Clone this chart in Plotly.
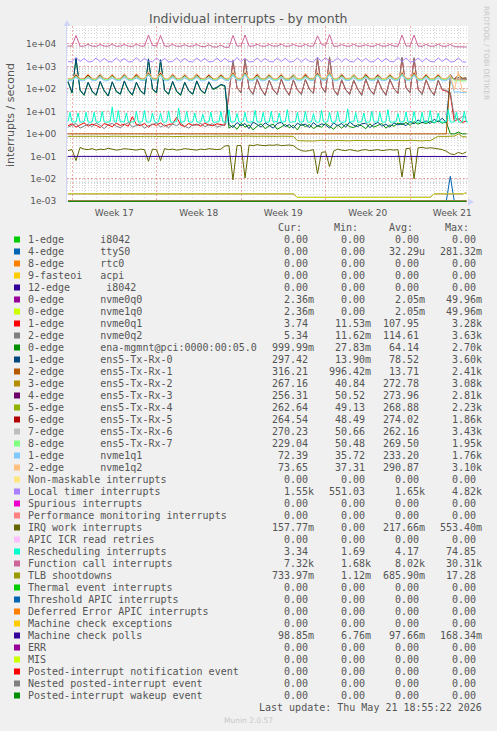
import plotly.graph_objects as go

# ---------------- time samples (days since Sunday 2026-04-19 00:00) ----------------
sample_days = [k / 3 for k in range(-1, 99)]          # 8-hour consolidated samples
res_days = [j / 6 - 1 / 3 for j in range(200)]        # 4-hour samples (rescheduling)
zero_days = [sample_days[0], sample_days[-1]]
zero_values = [0.0, 0.0]

week_centers = [3.5, 10.5, 17.5, 24.5, 31.5]
week_labels = ["Week 17", "Week 18", "Week 19", "Week 20", "Week 21"]
ytick_vals = [1e-3, 1e-2, 1e-1, 1e0, 1e1, 1e2, 1e3, 1e4]
ytick_text = ["1e-03", "1e-02", "1e-01", "1e+00", "1e+01", "1e+02", "1e+03", "1e+04"]

# ---------------- series values ----------------
ttys0 = [0, 0, 0, 0, 0, 0, 0, 0, 0, 0,
         0, 0, 0, 0, 0, 0, 0, 0, 0, 0,
         0, 0, 0, 0, 0, 0, 0, 0, 0, 0,
         0, 0, 0, 0, 0, 0, 0, 0, 0, 0,
         0, 0, 0, 0, 0, 0, 0, 0, 0, 0,
         0, 0, 0, 0, 0, 0, 0, 0, 0, 0,
         0, 0, 0, 0, 0, 0, 0, 0, 0, 0,
         0, 0, 0, 0, 0, 0, 0, 0, 0, 0,
         0, 0, 0, 0, 0, 0, 0, 0, 0, 0,
         0, 0, 0, 0, 0, 0.013, 0, 0, 0, 0]

nvme0q0 = [0.00215, 0.00215, 0.00214, 0.00215, 0.00216, 0.00215, 0.00215, 0.00214, 0.00215, 0.00215,
           0.00215, 0.00216, 0.00215, 0.00215, 0.00214, 0.00215, 0.00215, 0.00215, 0.00216, 0.00215,
           0.00215, 0.00214, 0.00215, 0.00215, 0.00215, 0.00216, 0.00215, 0.00215, 0.00214, 0.00215,
           0.00215, 0.00215, 0.00216, 0.00215, 0.00215, 0.00214, 0.00215, 0.00215, 0.00215, 0.00216,
           0.00215, 0.00215, 0.00214, 0.00215, 0.00215, 0.00215, 0.00216, 0.00215, 0.00215, 0.00214,
           0.00215, 0.00215, 0.00215, 0.00216, 0.00215, 0.00215, 0.00215, 0.00150, 0.00150, 0.00149,
           0.00150, 0.00150, 0.00151, 0.00150, 0.00150, 0.00149, 0.00150, 0.00150, 0.00150, 0.00151,
           0.00150, 0.00150, 0.00149, 0.00150, 0.00150, 0.00150, 0.00151, 0.00150, 0.00150, 0.00149,
           0.00150, 0.00150, 0.00150, 0.00151, 0.00150, 0.00150, 0.00149, 0.00150, 0.00150, 0.00150,
           0.00151, 0.00215, 0.00215, 0.00216, 0.00215, 0.00215, 0.00214, 0.00215, 0.00215, 0.00236]

nvme1q0 = [0.00215, 0.00215, 0.00214, 0.00215, 0.00216, 0.00215, 0.00215, 0.00214, 0.00215, 0.00215,
           0.00215, 0.00216, 0.00215, 0.00215, 0.00214, 0.00215, 0.00215, 0.00215, 0.00216, 0.00215,
           0.00215, 0.00214, 0.00215, 0.00215, 0.00215, 0.00216, 0.00215, 0.00215, 0.00214, 0.00215,
           0.00215, 0.00215, 0.00216, 0.00215, 0.00215, 0.00214, 0.00215, 0.00215, 0.00215, 0.00216,
           0.00215, 0.00215, 0.00214, 0.00215, 0.00215, 0.00215, 0.00216, 0.00215, 0.00215, 0.00214,
           0.00215, 0.00215, 0.00215, 0.00216, 0.00215, 0.00215, 0.00215, 0.00150, 0.00150, 0.00149,
           0.00150, 0.00150, 0.00151, 0.00150, 0.00150, 0.00149, 0.00150, 0.00150, 0.00150, 0.00151,
           0.00150, 0.00150, 0.00149, 0.00150, 0.00150, 0.00150, 0.00151, 0.00150, 0.00150, 0.00149,
           0.00150, 0.00150, 0.00150, 0.00151, 0.00150, 0.00150, 0.00149, 0.00150, 0.00150, 0.00150,
           0.00151, 0.00215, 0.00215, 0.00216, 0.00215, 0.00215, 0.00214, 0.00215, 0.00215, 0.00236]

nvme0q1 = [2.3, 2.8, 2.0, 2.6, 3.1, 2.2, 2.7, 2.4, 1.9, 2.9,
           2.5, 2.1, 3.0, 2.4, 2.7, 2.2, 5.8, 2.6, 2.3, 2.9,
           2.0, 2.7, 2.4, 3.1, 2.2, 2.6, 2.8, 5.5, 2.5, 2.1,
           2.9, 2.4, 2.7, 2.2, 3.0, 2.5, 2.3, 2.8, 2.6, 2.4,
           60, 1800, 110, 70, 2000, 100, 60, 260, 95, 55,
           240, 90, 60, 270, 95, 55, 250, 90, 60, 260,
           95, 65, 2200, 120, 70, 2500, 95, 55, 250, 90,
           60, 240, 95, 55, 270, 90, 60, 250, 95, 55,
           260, 100, 65, 2400, 110, 70, 2300, 95, 60, 250,
           90, 55, 240, 90, 80, 60, 3.5, 4.8, 3.2, 3.74]

nvme0q2 = [2.0, 2.5, 2.9, 1.8, 2.3, 2.7, 2.1, 3.0, 2.4, 1.7,
           2.6, 2.9, 2.2, 1.9, 2.5, 3.2, 2.0, 2.4, 2.8, 1.8,
           2.3, 2.6, 3.1, 2.0, 2.5, 1.9, 2.7, 2.3, 3.0, 2.2,
           1.8, 2.6, 2.4, 2.9, 2.1, 2.5, 2.8, 2.0, 2.3, 2.6,
           70, 1900, 120, 65, 2100, 105, 55, 280, 100, 50,
           250, 95, 55, 290, 100, 50, 260, 95, 55, 270,
           100, 60, 2400, 130, 65, 2700, 100, 50, 265, 95,
           55, 255, 100, 50, 285, 95, 55, 265, 100, 50,
           275, 105, 60, 2600, 115, 65, 2500, 100, 55, 265,
           95, 50, 255, 95, 85, 70, 5.5, 4.2, 6.0, 5.34]

ena_mgmnt = [200, 65, 2200, 85, 52, 190, 75, 52, 205, 80,
             48, 200, 75, 57, 215, 85, 52, 190, 80, 57,
             2000, 95, 66, 1850, 85, 57, 205, 75, 52, 190,
             80, 57, 215, 85, 62, 200, 95, 110, 150, 130,
             1.8, 2.4, 1.6, 2.9, 2.0, 2.5, 1.5, 2.2, 2.8, 1.7,
             2.3, 2.7, 1.6, 2.0, 2.6, 1.9, 2.4, 1.5, 2.8, 2.1,
             2.6, 1.7, 2.3, 2.0, 2.9, 2.2, 1.6, 2.5, 1.8, 2.7,
             2.1, 1.9, 2.6, 2.3, 1.7, 2.8, 2.0, 2.4, 2.9, 1.8,
             2.5, 2.2, 3.0, 2.6, 3.2, 2.4, 3.5, 2.7, 3.3, 2.9,
             3.6, 3.1, 3.8, 3.0, 3.4, 1.0, 1.0, 1.2, 1.0, 1.0]

txrx0 = [220, 70, 2400, 90, 55, 200, 80, 55, 220, 85,
         50, 210, 80, 60, 230, 90, 55, 200, 85, 60,
         2200, 100, 70, 2000, 90, 60, 220, 80, 55, 200,
         85, 60, 230, 90, 65, 210, 100, 120, 160, 140,
         2.6, 1.9, 3.2, 2.3, 2.9, 1.7, 3.4, 2.5, 2.0, 3.1,
         2.4, 1.8, 2.9, 3.3, 2.1, 2.6, 1.8, 3.0, 2.4, 2.7,
         1.9, 3.2, 2.2, 2.8, 2.5, 1.8, 3.1, 2.3, 2.9, 2.0,
         3.4, 2.4, 2.1, 2.8, 3.0, 1.9, 2.6, 3.3, 2.2, 2.7,
         2.0, 3.1, 2.5, 2.9, 2.3, 3.6, 2.8, 4.2, 3.1, 3.8,
         2.9, 4.5, 3.4, 5.0, 3.2, 300, 285, 320, 295, 297.42]

txrx1 = [1.0, 1.0, 0.998, 1.0, 1.0, 1.0, 0.999, 1.0, 1.0, 1.0,
         1.0, 1.0, 1.0, 0.998, 1.0, 1.0, 1.0, 1.0, 1.0, 0.999,
         1.0, 1.0, 0.998, 1.0, 1.0, 1.0, 1.0, 0.999, 1.0, 1.0,
         1.0, 1.0, 1.0, 1.0, 0.998, 1.0, 1.0, 1.0, 1.0, 1.0,
         1.0, 0.999, 1.0, 1.0, 1.0, 1.0, 0.998, 1.0, 1.0, 1.0,
         1.0, 1.0, 1.0, 0.999, 1.0, 1.0, 1.0, 1.0, 0.998, 1.0,
         1.0, 1.0, 1.0, 1.0, 1.0, 0.999, 1.0, 1.0, 1.0, 1.0,
         0.998, 1.0, 1.0, 1.0, 1.0, 1.0, 0.999, 1.0, 1.0, 1.0,
         1.0, 1.0, 0.998, 1.0, 1.0, 1.0, 1.0, 0.999, 1.0, 1.0,
         1.0, 1.0, 1.0, 1.0, 1.0, 320, 280, 420, 300, 316.21]

txrx2 = [280, 270, 380, 275, 268, 360, 272, 270, 390, 278,
         265, 370, 270, 272, 400, 276, 268, 365, 280, 270,
         450, 285, 275, 480, 272, 268, 370, 275, 270, 385,
         270, 266, 360, 278, 270, 395, 274, 268, 370, 282,
         270, 460, 285, 272, 470, 275, 268, 380, 270, 265,
         360, 276, 270, 390, 272, 268, 375, 278, 266, 365,
         280, 272, 440, 284, 275, 470, 274, 268, 380, 270,
         266, 370, 276, 270, 390, 272, 268, 365, 278, 270,
         380, 282, 272, 450, 285, 276, 460, 274, 268, 370,
         270, 265, 385, 276, 270, 360, 268, 267, 270, 267.16]

txrx3 = [276, 282, 430, 280, 274, 400, 278, 284, 420, 272,
         280, 390, 282, 276, 440, 278, 272, 410, 284, 280,
         520, 288, 278, 500, 276, 282, 420, 280, 274, 400,
         278, 270, 430, 282, 276, 410, 274, 280, 390, 286,
         278, 500, 288, 282, 520, 278, 274, 440, 282, 276,
         420, 276, 280, 400, 280, 272, 430, 274, 278, 410,
         286, 280, 490, 290, 284, 530, 278, 274, 420, 282,
         276, 400, 276, 280, 440, 280, 274, 410, 274, 278,
         420, 286, 280, 500, 288, 282, 510, 278, 276, 420,
         282, 274, 400, 276, 280, 430, 262, 258, 256, 256.31]

txrx4 = [268, 264, 360, 270, 266, 380, 264, 268, 350, 270,
         262, 370, 266, 270, 360, 268, 264, 390, 274, 268,
         460, 278, 270, 440, 266, 262, 370, 270, 268, 360,
         264, 266, 380, 268, 270, 350, 266, 262, 370, 276,
         270, 450, 278, 272, 460, 268, 264, 360, 266, 270,
         380, 270, 264, 370, 264, 268, 350, 268, 266, 380,
         276, 270, 440, 280, 272, 470, 268, 264, 370, 266,
         268, 360, 270, 262, 380, 264, 266, 350, 268, 270,
         370, 276, 268, 450, 278, 272, 440, 266, 264, 360,
         270, 268, 380, 264, 266, 370, 262, 264, 263, 262.64]

txrx5 = [278, 272, 400, 274, 280, 420, 276, 270, 390, 280,
         276, 410, 272, 278, 400, 278, 274, 430, 282, 276,
         480, 286, 280, 500, 276, 272, 410, 274, 278, 390,
         280, 274, 420, 276, 270, 400, 272, 276, 410, 284,
         278, 490, 286, 280, 480, 276, 272, 420, 280, 276,
         400, 274, 278, 410, 278, 272, 390, 276, 280, 420,
         284, 276, 470, 288, 282, 500, 276, 272, 410, 278,
         276, 400, 274, 280, 420, 280, 274, 390, 276, 272,
         410, 282, 278, 480, 286, 280, 490, 276, 274, 400,
         278, 272, 420, 274, 278, 390, 266, 264, 265, 264.54]

txrx6 = [262, 258, 350, 260, 264, 340, 258, 262, 360, 264,
         258, 345, 260, 262, 355, 262, 256, 340, 266, 260,
         430, 270, 264, 420, 260, 258, 350, 262, 264, 345,
         258, 260, 360, 264, 258, 340, 260, 262, 350, 268,
         262, 420, 270, 264, 440, 262, 258, 355, 258, 262,
         345, 264, 260, 360, 260, 258, 340, 262, 264, 350,
         268, 262, 420, 272, 266, 450, 260, 258, 345, 264,
         262, 355, 258, 260, 340, 262, 264, 360, 260, 258,
         350, 268, 262, 430, 270, 264, 420, 262, 258, 345,
         258, 262, 355, 264, 260, 340, 268, 270, 270, 270.23]

txrx7 = [266, 270, 380, 268, 264, 360, 270, 266, 390, 264,
         268, 370, 268, 270, 400, 266, 262, 370, 272, 268,
         470, 276, 270, 450, 264, 268, 380, 268, 266, 370,
         270, 264, 390, 266, 268, 360, 264, 270, 380, 274,
         268, 460, 276, 270, 470, 268, 264, 380, 270, 268,
         390, 264, 266, 370, 268, 270, 400, 266, 264, 360,
         274, 268, 450, 278, 272, 480, 266, 264, 370, 270,
         268, 390, 264, 266, 380, 268, 270, 360, 266, 264,
         390, 274, 270, 460, 276, 272, 450, 268, 264, 380,
         264, 268, 370, 270, 266, 390, 232, 230, 229, 229.04]

nvme1q1 = [238, 232, 330, 236, 230, 310, 234, 238, 320, 230,
           236, 300, 236, 232, 330, 238, 230, 310, 240, 236,
           420, 244, 238, 400, 232, 236, 320, 236, 230, 310,
           234, 238, 330, 230, 234, 300, 236, 232, 320, 242,
           236, 400, 244, 238, 420, 236, 232, 320, 232, 236,
           310, 238, 230, 330, 234, 236, 300, 230, 234, 320,
           240, 236, 400, 246, 240, 430, 234, 230, 320, 236,
           238, 310, 232, 234, 330, 238, 230, 300, 234, 236,
           320, 242, 238, 410, 244, 240, 400, 236, 232, 320,
           232, 236, 310, 230, 234, 300, 70, 75, 68, 72.39]

nvme1q2 = [298, 292, 500, 294, 300, 470, 296, 290, 490, 300,
           294, 460, 292, 298, 480, 296, 292, 500, 302, 296,
           620, 306, 300, 600, 294, 290, 480, 298, 294, 470,
           292, 296, 490, 300, 294, 460, 296, 292, 480, 304,
           298, 600, 306, 300, 620, 294, 290, 490, 298, 296,
           470, 292, 294, 480, 296, 300, 460, 294, 290, 500,
           304, 298, 590, 308, 302, 640, 294, 292, 480, 298,
           296, 470, 292, 294, 490, 300, 296, 460, 294, 290,
           480, 304, 298, 610, 306, 300, 600, 296, 292, 480,
           292, 298, 470, 296, 290, 420, 90, 600, 80, 73.65]

local_timer = [1650, 1600, 2500, 1650, 2300, 1600, 1650, 2400, 1600, 2300,
               1650, 1600, 2400, 1650, 2300, 1600, 1650, 2500, 1600, 2300,
               1700, 1600, 2400, 1650, 2300, 1600, 1650, 2400, 1600, 2300,
               1650, 1600, 2400, 1650, 2300, 1600, 1650, 2400, 1600, 2300,
               1650, 1600, 2500, 1650, 2300, 1600, 1650, 2400, 1600, 2300,
               1650, 1600, 2400, 1650, 2300, 1600, 1650, 2400, 1600, 2300,
               1650, 1600, 2600, 1650, 2500, 1600, 1650, 2400, 1600, 2300,
               1650, 1600, 2400, 1650, 2300, 1600, 1650, 2400, 1600, 2300,
               1650, 1600, 2500, 1650, 2400, 1600, 1650, 2400, 1600, 2300,
               1650, 1600, 2400, 1650, 2300, 1600, 1650, 2400, 1600, 1550]

irq_work = [0.18, 0.2, 0.065, 0.25, 0.21, 0.2, 0.22, 0.19, 0.21, 0.2,
            0.23, 0.21, 0.19, 0.2, 0.22, 0.21, 0.2, 0.19, 0.21, 0.2,
            0.06, 0.21, 0.2, 0.065, 0.22, 0.2, 0.21, 0.19, 0.2, 0.22,
            0.21, 0.2, 0.19, 0.21, 0.2, 0.22, 0.21, 0.2, 0.21, 0.29,
            0.3, 0.009, 0.3, 0.31, 0.011, 0.32, 0.3, 0.33, 0.31, 0.3,
            0.32, 0.31, 0.33, 0.3, 0.31, 0.32, 0.3, 0.22, 0.18, 0.17,
            0.18, 0.2, 0.017, 0.15, 0.16, 0.035, 0.17, 0.21, 0.19, 0.18,
            0.2, 0.18, 0.17, 0.19, 0.2, 0.18, 0.19, 0.2, 0.18, 0.19,
            0.2, 0.19, 0.2, 0.012, 0.22, 0.23, 0.01, 0.24, 0.25, 0.23,
            0.24, 0.23, 0.22, 0.2, 0.17, 0.13, 0.12, 0.15, 0.13, 0.158]

rescheduling = [3.5, 9, 3.4, 3.3, 3.4, 8.5, 3.3, 3.4, 3.5, 9,
                3.4, 3.3, 3.4, 9, 3.4, 3.3, 3.5, 10, 3.4, 3.3,
                3.4, 3.5, 16, 3.4, 3.3, 11, 3.4, 3.5, 3.3, 8.5,
                3.4, 3.3, 3.5, 3.4, 10, 3.3, 3.4, 3.5, 11, 3.4,
                3.3, 3.4, 8.5, 3.5, 3.3, 3.4, 8.5, 3.4, 3.3, 3.5,
                10, 3.4, 3.3, 3.4, 3.5, 14, 3.3, 3.4, 3.5, 10,
                3.4, 3.3, 3.4, 8.5, 3.5, 3.3, 3.4, 7.5, 3.4, 3.3,
                3.5, 9, 3.4, 3.3, 3.4, 3.5, 10, 3.4, 3.3, 3.4,
                12, 3.3, 3.4, 3.5, 8, 3.4, 3.3, 3.5, 9, 3.4,
                3.3, 3.4, 3.5, 11, 3.4, 3.3, 3.4, 9, 3.5, 3.3,
                3.4, 10, 3.3, 3.5, 3.4, 8.5, 3.3, 3.4, 3.5, 12,
                3.4, 3.3, 3.5, 3.4, 9, 3.3, 3.4, 3.5, 10, 3.4,
                3.3, 3.4, 8, 3.5, 3.3, 3.4, 11, 3.4, 3.3, 3.5,
                9, 3.4, 3.3, 3.4, 10, 3.5, 3.3, 3.4, 3.4, 13,
                3.3, 3.5, 3.4, 9, 3.3, 3.4, 3.5, 8.5, 3.4, 3.3,
                3.4, 10, 3.5, 3.3, 3.4, 9, 3.4, 3.3, 3.5, 12,
                3.4, 3.3, 3.4, 3.5, 8, 3.3, 3.4, 3.5, 9.5, 3.4,
                3.3, 3.4, 10, 3.5, 3.3, 3.4, 9, 3.4, 3.3, 3.5,
                11, 3.4, 3.3, 3.4, 8.5, 3.5, 3.3, 3.4, 3.5, 12,
                3.4, 3.3, 3.4, 9, 3.5, 3.3, 3.4, 10, 3.4, 3.34]

function_call = [8000, 8200, 24000, 7900, 8100, 9600, 8000, 7900, 9400, 8100,
                 8000, 9800, 7900, 8100, 9500, 8000, 7800, 9700, 8100, 8000,
                 25000, 8600, 8200, 24000, 8100, 7900, 9600, 8000, 7900, 9300,
                 7900, 8100, 9500, 7800, 7600, 9200, 7400, 7300, 9000, 7100,
                 7200, 24000, 8100, 8200, 25000, 8000, 8100, 9700, 8100, 7900,
                 9500, 8000, 8100, 9800, 7900, 8000, 9600, 8100, 7900, 9700,
                 8000, 8100, 23000, 9600, 8400, 26000, 8000, 7900, 9500, 8100,
                 8000, 9700, 7900, 8100, 9300, 8000, 7900, 9700, 8100, 8000,
                 9500, 8000, 7900, 25000, 8200, 8100, 25000, 8000, 7900, 9600,
                 7900, 8000, 9700, 8000, 7900, 9500, 7600, 7400, 7300, 7320]

tlb = [0.78, 0.77, 0.79, 0.78, 0.76, 0.78, 0.79, 0.77, 0.78, 0.78,
       0.77, 0.79, 0.78, 0.78, 0.76, 0.78, 0.79, 0.78, 0.77, 0.78,
       0.8, 0.78, 0.77, 0.79, 0.78, 0.78, 0.76, 0.78, 0.79, 0.77,
       0.78, 0.78, 0.77, 0.79, 0.78, 0.76, 0.78, 0.79, 0.78, 0.78,
       0.77, 0.79, 0.78, 0.78, 0.8, 0.78, 0.77, 0.78, 0.79, 0.78,
       0.76, 0.78, 0.78, 0.79, 0.77, 0.78, 0.78, 0.5, 0.49, 0.51,
       0.5, 0.48, 0.5, 0.52, 0.5, 0.49, 0.5, 0.51, 0.5, 0.5,
       0.49, 0.51, 0.5, 0.5, 0.48, 0.5, 0.51, 0.5, 0.49, 0.5,
       0.5, 0.51, 0.5, 0.49, 0.5, 0.52, 0.5, 0.5, 0.49, 0.51,
       0.5, 0.62, 0.78, 0.77, 0.79, 0.78, 0.8, 1.0, 0.76, 0.734]

mcp = [0.1, 0.1, 0.099, 0.1, 0.1, 0.098, 0.1, 0.1, 0.1, 0.099,
       0.1, 0.1, 0.1, 0.098, 0.1, 0.1, 0.099, 0.1, 0.1, 0.1,
       0.1, 0.098, 0.1, 0.1, 0.1, 0.099, 0.1, 0.1, 0.098, 0.1,
       0.1, 0.1, 0.099, 0.1, 0.1, 0.1, 0.098, 0.1, 0.1, 0.1,
       0.099, 0.1, 0.1, 0.098, 0.1, 0.1, 0.1, 0.099, 0.1, 0.1,
       0.1, 0.098, 0.1, 0.1, 0.099, 0.1, 0.1, 0.1, 0.098, 0.1,
       0.1, 0.099, 0.1, 0.1, 0.1, 0.098, 0.1, 0.1, 0.099, 0.1,
       0.1, 0.1, 0.098, 0.1, 0.1, 0.099, 0.1, 0.1, 0.1, 0.098,
       0.1, 0.1, 0.099, 0.1, 0.1, 0.1, 0.098, 0.1, 0.1, 0.099,
       0.1, 0.1, 0.1, 0.098, 0.1, 0.1, 0.099, 0.1, 0.1, 0.0989]

# ---------------- legend table (label, colour, Cur, Min, Avg, Max) ----------------
legend_labels = [
    "1-edge      i8042", "4-edge      ttyS0", "8-edge      rtc0", "9-fasteoi   acpi",
    "12-edge      i8042", "0-edge      nvme0q0", "0-edge      nvme1q0", "1-edge      nvme0q1",
    "2-edge      nvme0q2", "0-edge      ena-mgmnt@pci:0000:00:05.0", "1-edge      ens5-Tx-Rx-0",
    "2-edge      ens5-Tx-Rx-1", "3-edge      ens5-Tx-Rx-2", "4-edge      ens5-Tx-Rx-3",
    "5-edge      ens5-Tx-Rx-4", "6-edge      ens5-Tx-Rx-5", "7-edge      ens5-Tx-Rx-6",
    "8-edge      ens5-Tx-Rx-7", "1-edge      nvme1q1", "2-edge      nvme1q2",
    "Non-maskable interrupts", "Local timer interrupts", "Spurious interrupts",
    "Performance monitoring interrupts", "IRQ work interrupts", "APIC ICR read retries",
    "Rescheduling interrupts", "Function call interrupts", "TLB shootdowns",
    "Thermal event interrupts", "Threshold APIC interrupts", "Deferred Error APIC interrupts",
    "Machine check exceptions", "Machine check polls", "ERR", "MIS",
    "Posted-interrupt notification event", "Nested posted-interrupt event",
    "Posted-interrupt wakeup event",
]
legend_colors = [
    "#00CC00", "#0066B3", "#FF8000", "#FFCC00", "#330099", "#990099", "#CCFF00", "#FF0000",
    "#808080", "#008F00", "#00487D", "#B35A00", "#B38F00", "#6B006B", "#8FB300", "#B30000",
    "#BEBEBE", "#80FF80", "#80C9FF", "#FFC080", "#FFE680", "#AA80FF", "#EE00CC", "#FF8080",
    "#666600", "#FFBFFF", "#00FFCC", "#CC6699", "#999900", "#00CC00", "#0066B3", "#FF8000",
    "#FFCC00", "#330099", "#990099", "#CCFF00", "#FF0000", "#808080", "#008F00",
]
legend_cur = ["0.00", "0.00", "0.00", "0.00", "0.00", "2.36m", "2.36m", "3.74", "5.34", "999.99m",
              "297.42", "316.21", "267.16", "256.31", "262.64", "264.54", "270.23", "229.04",
              "72.39", "73.65", "0.00", "1.55k", "0.00", "0.00", "157.77m", "0.00", "3.34",
              "7.32k", "733.97m", "0.00", "0.00", "0.00", "0.00", "98.85m", "0.00", "0.00",
              "0.00", "0.00", "0.00"]
legend_min = ["0.00", "0.00", "0.00", "0.00", "0.00", "0.00", "0.00", "11.53m", "11.62m", "27.83m",
              "13.90m", "996.42m", "40.84", "50.52", "49.13", "48.49", "50.66", "50.48",
              "35.72", "37.31", "0.00", "551.03", "0.00", "0.00", "0.00", "0.00", "1.69",
              "1.68k", "1.12m", "0.00", "0.00", "0.00", "0.00", "6.76m", "0.00", "0.00",
              "0.00", "0.00", "0.00"]
legend_avg = ["0.00", "32.29u", "0.00", "0.00", "0.00", "2.05m", "2.05m", "107.95", "114.61", "64.14",
              "78.52", "13.71", "272.78", "273.96", "268.88", "274.02", "262.16", "269.50",
              "233.20", "290.87", "0.00", "1.65k", "0.00", "0.00", "217.66m", "0.00", "4.17",
              "8.02k", "685.90m", "0.00", "0.00", "0.00", "0.00", "97.66m", "0.00", "0.00",
              "0.00", "0.00", "0.00"]
legend_max = ["0.00", "281.32m", "0.00", "0.00", "0.00", "49.96m", "49.96m", "3.28k", "3.63k", "2.70k",
              "3.60k", "2.41k", "3.08k", "2.81k", "2.23k", "1.86k", "3.43k", "1.95k",
              "1.76k", "3.10k", "0.00", "4.82k", "0.00", "0.00", "553.40m", "0.00", "74.85",
              "30.31k", "17.28", "0.00", "0.00", "0.00", "0.00", "168.34m", "0.00", "0.00",
              "0.00", "0.00", "0.00"]

# series drawn in legend order (x samples, values)
series_data = [
    (zero_days, zero_values), (sample_days, ttys0), (zero_days, zero_values), (zero_days, zero_values),
    (zero_days, zero_values), (sample_days, nvme0q0), (sample_days, nvme1q0), (sample_days, nvme0q1),
    (sample_days, nvme0q2), (sample_days, ena_mgmnt), (sample_days, txrx0), (sample_days, txrx1),
    (sample_days, txrx2), (sample_days, txrx3), (sample_days, txrx4), (sample_days, txrx5),
    (sample_days, txrx6), (sample_days, txrx7), (sample_days, nvme1q1), (sample_days, nvme1q2),
    (zero_days, zero_values), (sample_days, local_timer), (zero_days, zero_values), (zero_days, zero_values),
    (sample_days, irq_work), (zero_days, zero_values), (res_days, rescheduling), (sample_days, function_call),
    (sample_days, tlb), (zero_days, zero_values), (zero_days, zero_values), (zero_days, zero_values),
    (zero_days, zero_values), (sample_days, mcp), (zero_days, zero_values), (zero_days, zero_values),
    (zero_days, zero_values), (zero_days, zero_values), (zero_days, zero_values),
]

# ---------------- geometry ----------------
W, H = 497, 731
PL, PR, PT, PB = 67, 468, 26, 202
X_RANGE = [-0.415, 32.8]
Y_RANGE = [-3.03, 4.8]
FLOOR = 1e-3  # rrdtool draws zero values on the bottom edge of a log graph
FONT = "DejaVu Sans"
MONO = "DejaVu Sans Mono"
TXT = "#555555"
MGRID = "rgba(240,90,90,0.5)"
GRID = "rgba(170,170,170,0.45)"


def px(xp):
    return (xp - PL) / (PR - PL)


def py(yp):
    return (PB - yp) / (PB - PT)


fig = go.Figure()
for (xs, ys), color, label in zip(series_data, legend_colors, legend_labels):
    fig.add_trace(go.Scatter(
        x=xs, y=[v if v > 0 else FLOOR for v in ys], mode="lines", name=label,
        line=dict(color=color, width=1), hoverinfo="skip", showlegend=False))
# empty trace so that the week-label axis is rendered
fig.add_trace(go.Scatter(x=[], y=[], xaxis="x2", yaxis="y", mode="lines",
                         showlegend=False, hoverinfo="skip"))

ann = []
ann.append(dict(text="Individual interrupts - by month", x=px(248), y=py(19),
                font=dict(family=FONT, size=12.5, color=TXT)))
ann.append(dict(text="interrupts / second", x=px(11), y=py(115), textangle=-90,
                font=dict(family=FONT, size=11, color=TXT)))
ann.append(dict(text="RRDTOOL / TOBI OETIKER", x=px(487), y=py(53), textangle=90,
                font=dict(family=FONT, size=7.3, color="#C8C8C8")))

HEAD_END = [303, 359, 413.5, 470]
COL_END = [315.3, 371.7, 426.0, 482.7]
for name, xe in zip(["Cur:", "Min:", "Avg:", "Max:"], HEAD_END):
    ann.append(dict(text=name, x=px(xe), y=py(227), xanchor="right",
                    font=dict(family=MONO, size=10, color=TXT)))

ROW0, PITCH = 239.5, 12.0
shapes = []
for r, label in enumerate(legend_labels):
    yr = ROW0 + PITCH * r
    shapes.append(dict(type="rect", xref="paper", yref="paper",
                       x0=px(14), x1=px(20), y0=py(yr - 3), y1=py(yr + 3),
                       fillcolor=legend_colors[r], line=dict(width=0)))
    ann.append(dict(text=label.replace(" ", "\u00a0"), x=px(26.5), y=py(yr), xanchor="left",
                    font=dict(family=MONO, size=10, color=TXT)))
    for vals, xe in zip([legend_cur, legend_min, legend_avg, legend_max], COL_END):
        s = vals[r]
        if s[-1].isdigit():
            s = s + "\u00a0"
        ann.append(dict(text=s, x=px(xe), y=py(yr), xanchor="right",
                        font=dict(family=MONO, size=10, color=TXT)))

ann.append(dict(text="Last\u00a0update:\u00a0Thu\u00a0May\u00a021\u00a018:55:22\u00a02026",
                x=px(482.7), y=py(707.7), xanchor="right",
                font=dict(family=MONO, size=10, color=TXT)))
ann.append(dict(text="Munin 2.0.57", x=px(248), y=py(720),
                font=dict(family=FONT, size=7.5, color="#C8C8C8")))

for a in ann:
    a.update(xref="paper", yref="paper", showarrow=False, borderpad=0)
    a.setdefault("xanchor", "center")
    a.setdefault("yanchor", "middle")

# axis arrows
AX = "#CFD6F8"
shapes.append(dict(type="path", xref="paper", yref="paper",
                   path=f"M {px(63.5)} {py(26)} L {px(70.5)} {py(26)} L {px(67)} {py(20)} Z",
                   fillcolor=AX, line=dict(width=0)))
shapes.append(dict(type="path", xref="paper", yref="paper",
                   path=f"M {px(468)} {py(198.5)} L {px(468)} {py(205.5)} L {px(474)} {py(202)} Z",
                   fillcolor=AX, line=dict(width=0)))

fig.update_layout(
    width=W, height=H, autosize=False,
    margin=dict(l=PL, r=W - PR, t=PT, b=H - PB, pad=0),
    paper_bgcolor="#F0F0F0", plot_bgcolor="#FFFFFF",
    showlegend=False,
    annotations=ann, shapes=shapes,
    xaxis=dict(range=X_RANGE, tick0=0, dtick=7, showticklabels=False, ticks="",
               showgrid=True, gridcolor=MGRID, griddash="2px,2px", gridwidth=1,
               minor=dict(tick0=0, dtick=1, showgrid=True, gridcolor=GRID,
                          griddash="1px,2px", gridwidth=1),
               zeroline=False, showline=False, fixedrange=True),
    xaxis2=dict(range=X_RANGE, overlaying="x", anchor="y", side="bottom",
                tickmode="array", tickvals=week_centers, ticktext=week_labels,
                showgrid=False, zeroline=False, showline=False, ticks="",
                tickfont=dict(family=FONT, size=9, color=TXT), ticklabelstandoff=4,
                fixedrange=True),
    yaxis=dict(type="log", range=Y_RANGE, tickmode="array", tickvals=ytick_vals, ticktext=ytick_text,
               showgrid=True, gridcolor=MGRID, griddash="2px,2px", gridwidth=1,
               minor=dict(dtick="D1", showgrid=True, gridcolor=GRID,
                          griddash="1px,2px", gridwidth=1),
               ticks="", tickfont=dict(family=FONT, size=9, color=TXT), ticklabelstandoff=8,
               showline=True, linecolor=AX, linewidth=1, zeroline=False, fixedrange=True),
)

fig.write_html("out.html", config={"displayModeBar": False, "staticPlot": True},
               post_script="document.body.style.margin='0px';")
